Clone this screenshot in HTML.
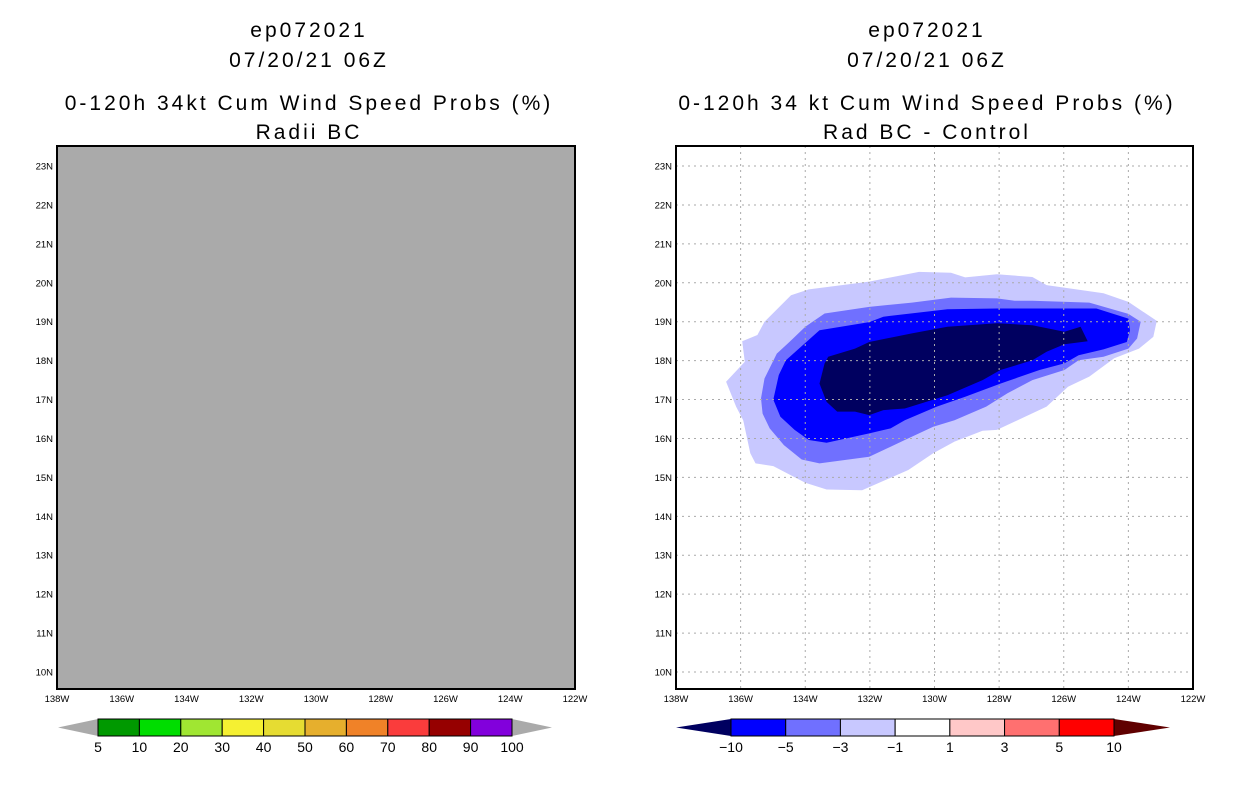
<!DOCTYPE html>
<html><head><meta charset="utf-8"><style>
body{margin:0;background:#fff;width:1236px;height:800px;overflow:hidden}
svg{display:block}
text{font-family:"Liberation Sans",sans-serif}
</style></head><body>
<svg id="chart" width="1236" height="800">
<g id="titles" font-size="21" text-anchor="middle" letter-spacing="3">
<text x="309" y="37">ep072021</text>
<text x="309" y="67">07/20/21 06Z</text>
<text x="309" y="110">0-120h 34kt Cum Wind Speed Probs (%)</text>
<text x="309" y="139">Radii BC</text>
<text x="927" y="37">ep072021</text>
<text x="927" y="67">07/20/21 06Z</text>
<text x="927" y="110">0-120h 34 kt Cum Wind Speed Probs (%)</text>
<text x="927" y="139">Rad BC - Control</text>
</g>
</svg>
<script>
const latTicks=[10,11,12,13,14,15,16,17,18,19,20,21,22,23];
const lonTicks=[138,136,134,132,130,128,126,124,122];
const leftLevels=["5","10","20","30","40","50","60","70","80","90","100"];
const leftColors=["#009900","#00dd00","#a0e632","#f5f032","#e6dc32","#e6af2d","#f08228","#fa3c3c","#960000","#8200dc"];
const rightLevels=["-10","-5","-3","-1","1","3","5","10"];
const rightColors=["#0000ff","#7070ff","#c8c8ff","#ffffff","#ffc8c8","#ff7070","#ff0000"];
const contourLevels=["-1","-3","-5","-10"];
const contourColors=["#c8c8ff","#7070ff","#0000ff","#000060"];
const contourM1=[[135.95,18.50],[135.48,18.66],[135.26,19.0],[134.44,19.68],[133.89,19.83],[132.02,20.03],[130.48,20.28],[129.49,20.26],[129.05,20.14],[128.07,20.22],[126.97,20.15],[126.53,19.94],[124.77,19.73],[124.0,19.51],[123.12,19.02],[123.23,18.61],[123.67,18.31],[124.44,18.06],[125.21,17.59],[125.87,17.33],[126.53,16.82],[127.63,16.39],[128.07,16.22],[128.51,16.20],[129.38,15.92],[130.04,15.62],[130.81,15.19],[132.24,14.67],[133.34,14.69],[134.0,14.86],[134.99,15.29],[135.54,15.36],[135.70,15.62],[135.92,16.47],[136.14,16.82],[136.45,17.46],[135.87,17.97]];
const contourM3=[[135.37,17.03],[135.26,17.54],[134.88,18.18],[134.49,18.48],[134.0,18.87],[133.40,19.21],[132.02,19.38],[130.70,19.49],[129.49,19.62],[128.07,19.60],[127.52,19.54],[126.97,19.54],[125.21,19.49],[124.0,19.20],[123.62,19.0],[123.73,18.57],[124.0,18.31],[124.77,18.10],[125.54,18.01],[125.98,17.76],[126.97,17.50],[127.74,17.16],[128.40,16.82],[129.38,16.47],[130.04,16.30],[130.92,15.96],[132.02,15.53],[133.56,15.36],[134.11,15.46],[134.66,15.83],[135.10,16.26],[135.32,16.64]];
const contourM5=[[134.99,17.0],[134.82,17.63],[134.60,18.01],[133.56,18.78],[132.02,18.99],[131.58,19.13],[129.60,19.32],[128.07,19.34],[124.99,19.34],[124.0,19.08],[123.95,18.78],[124.05,18.48],[124.77,18.29],[125.54,18.14],[125.98,17.93],[126.75,17.76],[127.96,17.41],[129.05,17.07],[129.93,16.82],[130.92,16.47],[131.36,16.26],[132.02,16.13],[133.34,15.89],[133.89,15.96],[134.33,16.22],[134.77,16.56]];
const contourM10=[[133.56,17.41],[133.40,17.93],[133.29,18.10],[132.46,18.31],[132.02,18.48],[130.70,18.70],[129.60,18.87],[128.07,18.96],[126.97,18.91],[125.98,18.74],[125.48,18.87],[125.26,18.50],[125.98,18.42],[126.53,18.23],[126.97,18.01],[127.96,17.76],[128.51,17.50],[129.60,17.11],[130.26,16.94],[130.92,16.77],[131.58,16.73],[132.02,16.60],[132.46,16.69],[133.01,16.69],[133.34,16.94]];
const contours=[contourM1,contourM3,contourM5,contourM10];

const NS="http://www.w3.org/2000/svg";
const svg=document.getElementById('chart');
function mk(tag,attrs,parent){const e=document.createElementNS(NS,tag);for(const k in attrs)e.setAttribute(k,attrs[k]);(parent||svg).appendChild(e);return e;}
const T=146,B=689,LATMIN=10-(689-672)/38.92,LATMAX=LATMIN+(B-T)/38.92;
function yScale(lat){return B-(lat-LATMIN)*(B-T)/(LATMAX-LATMIN);}
function panel(x0,x1,side){
  const xScale=lonW=>x0+(138-lonW)*(x1-x0)/16;
  const g=mk('g',{});
  
  
  const bg=mk('rect',{x:x0,y:T,width:x1-x0,height:B-T,fill:side==='left'?'#aaaaaa':'#ffffff'},g);
  
  
  if(side==='right'){
    contours.forEach((poly,i)=>{
      const p=mk('polygon',{points:poly.map(d=>xScale(d[0]).toFixed(1)+','+yScale(d[1]).toFixed(1)).join(' '),fill:contourColors[i]},g);
      
      
    });
    lonTicks.slice(1,-1).forEach(l=>{const ln=mk('line',{x1:xScale(l),x2:xScale(l),y1:T,y2:B,stroke:'#aaaaaa','stroke-dasharray':'2,4'},g);
      
      });
    latTicks.forEach(l=>{const ln=mk('line',{x1:x0,x2:x1,y1:yScale(l),y2:yScale(l),stroke:'#aaaaaa','stroke-dasharray':'2,4'},g);
      
      });
  }
  const fr=mk('rect',{x:x0,y:T,width:x1-x0,height:B-T,fill:'none',stroke:'#000','stroke-width':2},g);
  
  
  latTicks.forEach(l=>{const t=mk('text',{x:x0-4,y:yScale(l)+3.5,'font-size':9.5,'text-anchor':'end'},g);t.textContent=l+'N';
    
    });
  lonTicks.forEach(l=>{const t=mk('text',{x:xScale(l),y:702,'font-size':9.5,'text-anchor':'middle'},g);t.textContent=l+'W';
    
    });
}
panel(57,575,'left');
panel(676,1193,'right');
function colorbar(bx0,bx1,tl,tr,levels,colors,lcol,rcol,side){
  const g=mk('g',{});
  
  
  const y0=719,y1=736,ym=727.5,n=colors.length,w=(bx1-bx0)/n;
  const a=mk('polygon',{points:`${tl},${ym} ${bx0},${y0} ${bx0},${y1}`,fill:lcol},g);
  
  
  const b=mk('polygon',{points:`${tr},${ym} ${bx1},${y0} ${bx1},${y1}`,fill:rcol},g);
  
  
  colors.forEach((c,i)=>{const r=mk('rect',{x:bx0+i*w,y:y0,width:w,height:y1-y0,fill:c,stroke:'#000','stroke-width':1},g);
    
    });
  levels.forEach((l,i)=>{const t=mk('text',{x:bx0+i*w,y:752,'font-size':14,'text-anchor':'middle'},g);t.textContent=l.replace('-','\u2212');
    
    });
}
colorbar(98,512,58,552,leftLevels,leftColors,'#aaaaaa','#aaaaaa','left');
colorbar(731,1114,676,1170,rightLevels,rightColors,'#000060','#600000','right');
</script>
</body></html>
